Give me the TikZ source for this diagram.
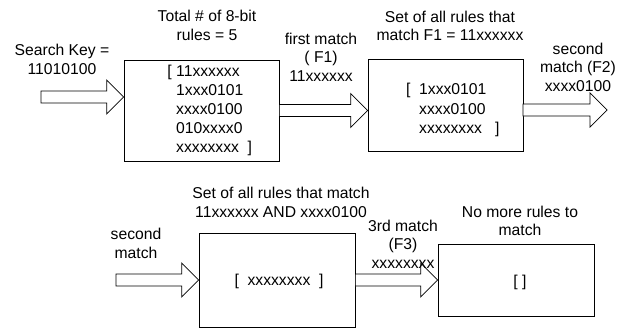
\documentclass[tikz,border=0pt]{standalone}
\usepackage{fontspec}
\setmainfont{Liberation Sans}
\usetikzlibrary{calc}
\tikzset{
  box/.style={draw=black, line width=0.7pt, fill=white, inner sep=0pt, anchor=center},
  lbl/.style={inner sep=0pt, align=center, font=\fontsize{15.7}{18.5}\selectfont},
  content/.style={inner sep=0pt, align=left, font=\fontsize{15.7}{19.2}\selectfont},
  blk/.style={draw=black, line width=0.7pt, fill=white, line join=miter}
}
\newcommand{\blkarrow}[2]{%
  \draw[blk] let \p1=(#1), \p2=(#2) in
    (\x1,\y1-6) -- (\x2-17,\y1-6) -- (\x2-17,\y1-17) -- (\x2,\y1)
    -- (\x2-17,\y1+17) -- (\x2-17,\y1+6) -- (\x1,\y1+6) -- cycle;}
\begin{document}
\begin{tikzpicture}[x=1pt, y=-1pt]
\useasboundingbox (0,0) rectangle (628,329);
% boxes
\node[box, minimum width=155pt, minimum height=101pt] (b1) at (201.5,110.5) {};
\node[box, minimum width=155pt, minimum height=92pt] (b2) at (445.5,105) {};
\node[box, minimum width=156pt, minimum height=94pt] (b3) at (277,280) {};
\node[box, minimum width=156pt, minimum height=72pt] (b4) at (516,280) {};
% box contents
\node[content, anchor=west] (c1) at (176,110.5) {\llap{[\ }11xxxxxx\\1xxx0101\\xxxx0100\\010xxxx0\\xxxxxxxx\ \ ]};
\node[content, anchor=west] (c2) at (419,110) {\llap{[\ \ }1xxx0101\\xxxx0100\\xxxxxxxx\ \ \ ]};
\node[content] (c3) at (279,281) {[\ \ xxxxxxxx\ \ ]};
\node[content] (c4) at (520,282) {[ ]};
% labels
\node[lbl] (l1) at (62,59.5) {Search Key =\\11010100};
\node[lbl] (l2) at (207,25.5) {Total \# of 8-bit\\rules = 5};
\node[lbl] (l3) at (321,57) {first match\\( F1)\\11xxxxxx};
\node[lbl] (l4) at (450,26) {Set of all rules that\\match F1 = 11xxxxxx};
\node[lbl] (l5) at (578,67) {second\\match (F2)\\xxxx0100};
\node[lbl] (l6) at (281,202.5) {Set of all rules that match\\11xxxxxx AND xxxx0100};
\node[lbl] (l7) at (136,243.5) {second\\match};
\node[lbl] (l8) at (520,221) {No more rules to\\match};
% coordinates for arrow ends
\coordinate (a1s) at (41,97);
\coordinate (a3s) at (523,110);
\coordinate (a3e) at (607,110);
\coordinate (a4s) at (116,280);
% block arrows
\blkarrow{a1s}{b1.west}
\blkarrow{b1.east}{b2.west}
\blkarrow{a3s}{a3e}
\blkarrow{a4s}{b3.west}
\blkarrow{b3.east}{b4.west}
\node[lbl] (l9) at (403,244) {3rd match\\(F3)\\xxxxxxxx};
\end{tikzpicture}
\end{document}
